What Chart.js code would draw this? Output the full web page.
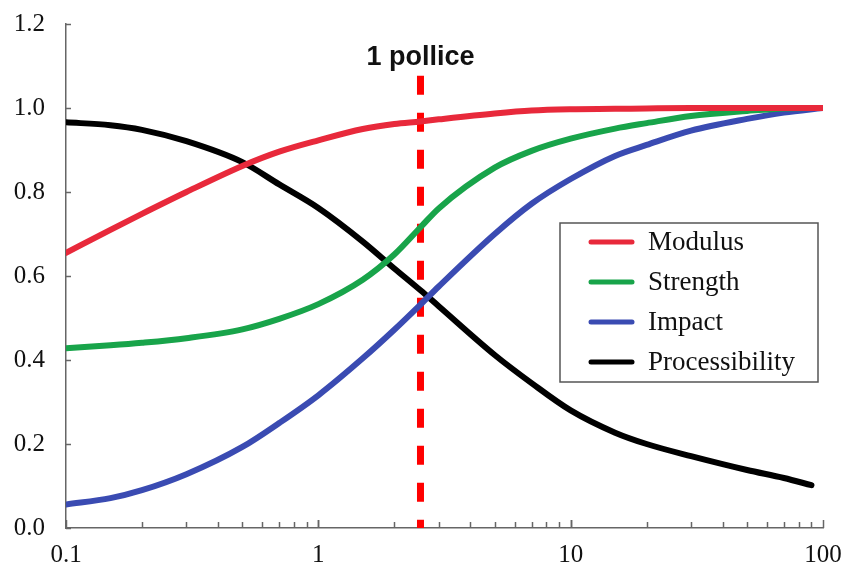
<!DOCTYPE html>
<html>
<head>
<meta charset="utf-8">
<script src="https://cdn.jsdelivr.net/npm/chart.js@4/dist/chart.umd.min.js"></script>
<style>
html,body{margin:0;padding:0;background:#fff;}
#wrap{position:relative;width:845px;height:567px;}
</style>
</head>
<body>
<div id="wrap"><canvas id="c" width="845" height="567"></canvas></div>
<script>
// ---- data ----
const xValues = [0.1,0.15,0.2,0.3,0.5,0.7,1,1.5,2,2.54,3,5,7,10,15,20,30,50,70,100];
const modulus = [0.655,0.71,0.748,0.80,0.862,0.896,0.923,0.95,0.962,0.968,0.973,0.987,0.994,0.997,0.998,0.999,1.0,1.0,1.0,1.0];
const strength = [0.428,0.435,0.441,0.452,0.473,0.498,0.533,0.591,0.651,0.716,0.761,0.858,0.898,0.927,0.951,0.964,0.981,0.993,0.999,1.0];
const impact = [0.056,0.071,0.090,0.128,0.193,0.250,0.316,0.404,0.472,0.532,0.575,0.700,0.772,0.831,0.886,0.912,0.946,0.974,0.989,1.0];
const processX = [0.1,0.15,0.2,0.3,0.5,0.7,1,1.5,2,2.54,3,5,7,10,15,20,30,50,70,90];
const processibility = [0.966,0.959,0.948,0.921,0.871,0.818,0.762,0.682,0.618,0.566,0.528,0.412,0.345,0.28,0.227,0.2,0.171,0.138,0.119,0.102];
const seriesNames = ['Modulus','Strength','Impact','Processibility'];
const xTickLabels = [0.1,1,10,100];
const yTicks = [0,0.2,0.4,0.6,0.8,1.0,1.2];
const inchX = [2.54,2.54];
const inchY = [1.077,0];
const inchLabel = '1 pollice';
const inchLabelY = 1.12;

const colors = ['#e8293b','#18a44a','#3a4bb2','#000000'];
const toPts = (xs, ys) => xs.map((x,i)=>({x:x,y:ys[i]}));

const serif = "'Liberation Serif','Times New Roman',serif";

const datasets = [
  {label:seriesNames[0], data:toPts(xValues,modulus)},
  {label:seriesNames[1], data:toPts(xValues,strength)},
  {label:seriesNames[2], data:toPts(xValues,impact)},
  {label:seriesNames[3], data:toPts(processX,processibility)}
].map((d,i)=>Object.assign(d,{
  borderColor:colors[i], backgroundColor:colors[i], borderWidth:6,
  pointRadius:0, cubicInterpolationMode:'monotone', fill:false, borderCapStyle:'round'
}));

datasets.push({
  label:'inch', data:toPts(inchX,inchY), borderColor:'#ff0000', borderWidth:7,
  borderDash:[19,18], pointRadius:0, fill:false, isMarker:true
});

const overlay = {
  id:'overlay',
  afterDatasetsDraw(chart){
    const ctx = chart.ctx, xs = chart.scales.x, ys = chart.scales.y;
    const area = chart.chartArea;
    ctx.save();
    ctx.strokeStyle = '#666'; ctx.lineWidth = 1.5;
    yTicks.forEach(v=>{
      const py = Math.round(ys.getPixelForValue(v))+0.5;
      ctx.beginPath(); ctx.moveTo(area.left, py); ctx.lineTo(area.left+5, py); ctx.stroke();
    });
    for (let dec=0.1; dec<100; dec*=10){
      for (let m=1; m<=10; m++){
        const v = dec*m;
        if (v>100.0001) continue;
        const px = Math.round(xs.getPixelForValue(v))+0.5;
        const len = (m===1||m===10)?8:6;
        ctx.beginPath(); ctx.moveTo(px, area.bottom); ctx.lineTo(px, area.bottom-len); ctx.stroke();
      }
    }
    ctx.fillStyle = '#111';
    ctx.font = "bold 27px 'Liberation Sans', Arial, sans-serif";
    ctx.textAlign = 'center'; ctx.textBaseline = 'middle';
    ctx.fillText(inchLabel, xs.getPixelForValue(inchX[0]), ys.getPixelForValue(inchLabelY));
    const bx=560, by=223, bw=258, bh=159;
    ctx.fillStyle='#fff'; ctx.fillRect(bx,by,bw,bh);
    ctx.strokeStyle='#555'; ctx.lineWidth=1.5; ctx.strokeRect(bx,by,bw,bh);
    ctx.font = "27px " + serif; ctx.textAlign='left';
    chart.data.datasets.filter(d=>!d.isMarker).forEach((d,i)=>{
      const cy = 242 + i*40;
      ctx.strokeStyle = d.borderColor; ctx.lineWidth = 5; ctx.lineCap='round';
      ctx.beginPath(); ctx.moveTo(591, cy); ctx.lineTo(632, cy); ctx.stroke();
      ctx.fillStyle = '#111';
      ctx.fillText(d.label, 648, cy+1);
    });
    ctx.restore();
  }
};

new Chart(document.getElementById('c'), {
  type:'line',
  data:{datasets},
  plugins:[overlay],
  options:{
    responsive:false, animation:false, devicePixelRatio:1,
    layout:{padding:{top:24,right:22,left:0,bottom:0}},
    plugins:{legend:{display:false}, tooltip:{enabled:false}},
    scales:{
      x:{
        type:'logarithmic', min:0.1, max:100,
        grid:{display:false, drawTicks:false},
        border:{display:true, color:'#666', width:1.5},
        afterBuildTicks(s){ s.ticks = xTickLabels.map(v=>({value:v})); },
        ticks:{
          autoSkip:false, maxRotation:0, padding:12, color:'#111',
          font:{family:serif, size:25},
          callback:(v)=> String(v)
        },
        afterFit(s){ s.height = 39; s.paddingLeft = 0; s.paddingRight = 0; }
      },
      y:{
        type:'linear', min:0, max:1.2,
        grid:{display:false, drawTicks:false},
        border:{display:true, color:'#666', width:1.5},
        afterBuildTicks(s){ s.ticks = yTicks.map(v=>({value:v})); },
        ticks:{
          padding:21, color:'#111',
          font:{family:serif, size:25},
          callback:(v)=> Number(v).toFixed(1)
        },
        afterFit(s){ s.width = 66; s.paddingTop = 0; s.paddingBottom = 0; }
      }
    }
  }
});
</script>
</body>
</html>
